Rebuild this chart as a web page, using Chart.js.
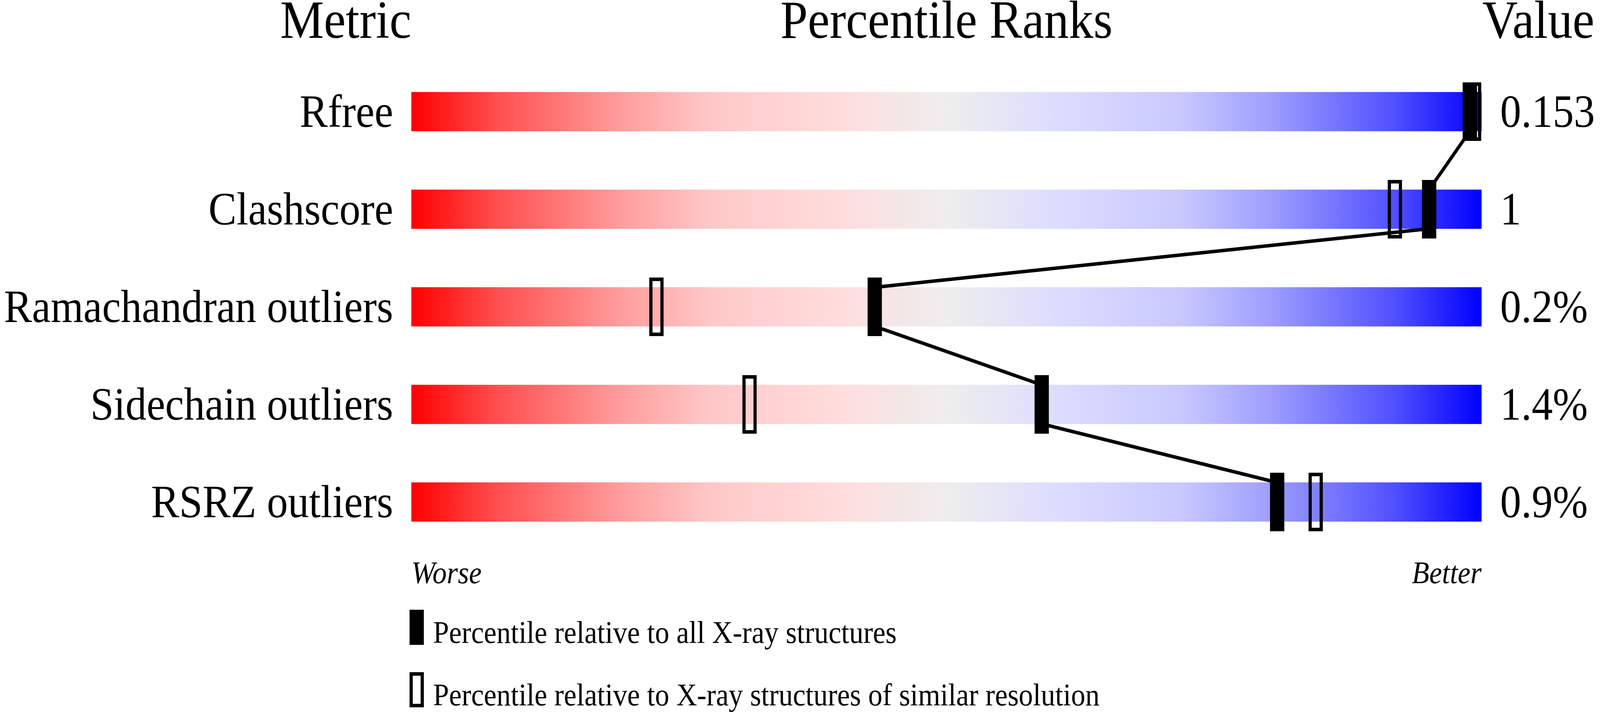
<!DOCTYPE html>
<html>
<head>
<meta charset="utf-8">
<script src="https://cdn.jsdelivr.net/npm/chart.js@4/dist/chart.umd.min.js"></script>
<style>
  html, body { margin: 0; padding: 0; background: #ffffff; width: 100vw; height: 100vh; overflow: hidden; }
  #c { display: block; }
</style>
</head>
<body>
<canvas id="c" width="4485" height="1824" style="width:100vw;height:100vh;display:block"></canvas>
<script>
// ---- data ----
const metrics = ['Rfree', 'Clashscore', 'Ramachandran outliers', 'Sidechain outliers', 'RSRZ outliers'];
const metricValues = ['0.153', '1', '0.2%', '1.4%', '0.9%'];
const pctAll = [98.9, 95.1, 43.3, 58.9, 80.9];       // percentile relative to all X-ray structures
const pctSimilar = [99.3, 91.9, 22.9, 31.6, 84.5];   // percentile relative to similar resolution
const headers = ['Metric', 'Percentile Ranks', 'Value'];
const axisEnds = ['Worse', 'Better'];
const legendLabels = ['Percentile relative to all X-ray structures',
                      'Percentile relative to X-ray structures of similar resolution'];

// ---- styles ----
const FONT = "'Liberation Serif', 'Times New Roman', serif";
const MARK_W = 40, MARK_H = 150, STROKE = 9;

function makeMarker(filled, w, h) {
  const cv = document.createElement('canvas');
  cv.width = w; cv.height = h;
  const g = cv.getContext('2d');
  g.fillStyle = '#000'; g.strokeStyle = '#000';
  if (filled) { g.fillRect(0, 0, w, h); }
  else { g.lineWidth = STROKE; g.strokeRect(STROKE / 2, STROKE / 2, w - STROKE, h - STROKE); }
  return cv;
}
const filledMarker = makeMarker(true, MARK_W, MARK_H);
const openMarker = makeMarker(false, MARK_W, MARK_H);
const legendFilled = makeMarker(true, 40, 90);
const legendOpen = makeMarker(false, 40, 90);

let gradCache = null;
function barGradient(ctx) {
  const ca = ctx.chart.chartArea;
  if (!ca) return '#eeeeee';
  if (gradCache && gradCache.l === ca.left && gradCache.r === ca.right) return gradCache.g;
  const g = ctx.chart.ctx.createLinearGradient(ca.left, 0, ca.right, 0);
  g.addColorStop(0.00, '#ff0000');
  g.addColorStop(0.08, '#ff4f4f');
  g.addColorStop(0.20, '#ffa0a0');
  g.addColorStop(0.28, '#ffc8c8');
  g.addColorStop(0.40, '#ffdddd');
  g.addColorStop(0.50, '#eeeeee');
  g.addColorStop(0.60, '#ddddff');
  g.addColorStop(0.72, '#c8c8ff');
  g.addColorStop(0.80, '#a0a0ff');
  g.addColorStop(0.92, '#4f4fff');
  g.addColorStop(1.00, '#0000ff');
  gradCache = { l: ca.left, r: ca.right, g };
  return g;
}

const rowTicks = s => { s.ticks = metrics.map((m, i) => ({ value: i })); };

const overlayPlugin = {
  id: 'overlay',
  afterDraw(chart) {
    const { ctx, chartArea: ca } = chart;
    ctx.save();
    ctx.fillStyle = '#000';
    ctx.textBaseline = 'alphabetic';
    ctx.font = '138px ' + FONT;
    ctx.textAlign = 'right';
    ctx.fillText(headers[0], ca.left, 97);
    ctx.textAlign = 'center';
    ctx.fillText(headers[1], (ca.left + ca.right) / 2, 97);
    ctx.textAlign = 'left';
    ctx.fillText(headers[2], ca.right + 2, 97);
    // legend
    ctx.font = '80px ' + FONT;
    const lx = ca.left - 5;
    ctx.drawImage(legendFilled, lx, ca.bottom + 151);
    ctx.fillText(legendLabels[0], lx + 66, ca.bottom + 236);
    ctx.drawImage(legendOpen, lx, ca.bottom + 311);
    ctx.fillText(legendLabels[1], lx + 66, ca.bottom + 396);
    ctx.restore();
  }
};

new Chart(document.getElementById('c'), {
  type: 'bar',
  data: {
    datasets: [
      {
        type: 'line',
        label: 'all',
        data: pctAll.map((p, i) => ({ x: p, y: i })),
        showLine: false,
        pointStyle: filledMarker,
        pointRadius: 10,
        clip: false,
        order: 1
      },
      {
        type: 'line',
        label: 'similar',
        data: pctSimilar.map((p, i) => ({ x: p, y: i })),
        showLine: false,
        pointStyle: openMarker,
        pointRadius: 10,
        clip: false,
        order: 2
      },
      {
        type: 'line',
        label: 'link',
        data: pctAll.flatMap((p, i) => [{ x: p, y: i - 0.2 }, { x: p, y: i + 0.2 }]),
        borderColor: '#000',
        borderWidth: 9,
        pointRadius: 0,
        fill: false,
        tension: 0,
        clip: false,
        order: 3
      },
      {
        type: 'bar',
        label: 'range',
        data: metrics.map((m, i) => ({ x: [0, 100], y: i })),
        backgroundColor: barGradient,
        borderWidth: 0,
        barThickness: 100,
        order: 4
      }
    ]
  },
  options: {
    indexAxis: 'y',
    responsive: false,
    devicePixelRatio: 1,
    animation: false,
    events: [],
    layout: { padding: { top: 161, left: 0, right: 0, bottom: 0 } },
    plugins: { legend: { display: false }, tooltip: { enabled: false }, title: { display: false } },
    scales: {
      x: {
        type: 'linear', position: 'bottom', min: 0, max: 100, offset: false,
        afterBuildTicks: s => { s.ticks = [{ value: 0 }, { value: 100 }]; },
        afterFit: s => { s.height = 413; },
        grid: { display: false, drawTicks: false },
        border: { display: false },
        ticks: {
          align: 'inner', padding: 14, color: '#000', maxRotation: 0, autoSkip: false,
          font: { family: FONT, size: 80, style: 'italic' },
          callback: v => (v === 0 ? axisEnds[0] : v === 100 ? axisEnds[1] : '')
        }
      },
      y: {
        type: 'linear', position: 'left', min: -0.5, max: 4.5, reverse: true, offset: false,
        afterBuildTicks: rowTicks,
        afterFit: s => { s.width = 1153; },
        grid: { display: false, drawTicks: false, offset: false },
        border: { display: false },
        ticks: {
          padding: 51, color: '#000', autoSkip: false, labelOffset: 8,
          font: { family: FONT, size: 118 },
          callback: v => metrics[v]
        }
      },
      y2: {
        type: 'linear', position: 'right', min: -0.5, max: 4.5, reverse: true, offset: false,
        afterBuildTicks: rowTicks,
        afterFit: s => { s.width = 332; },
        grid: { display: false, drawTicks: false, drawOnChartArea: false },
        border: { display: false },
        ticks: {
          padding: 52, color: '#000', autoSkip: false, labelOffset: 8,
          font: { family: FONT, size: 118 },
          callback: v => metricValues[v]
        }
      }
    }
  },
  plugins: [overlayPlugin]
});
</script>
</body>
</html>
